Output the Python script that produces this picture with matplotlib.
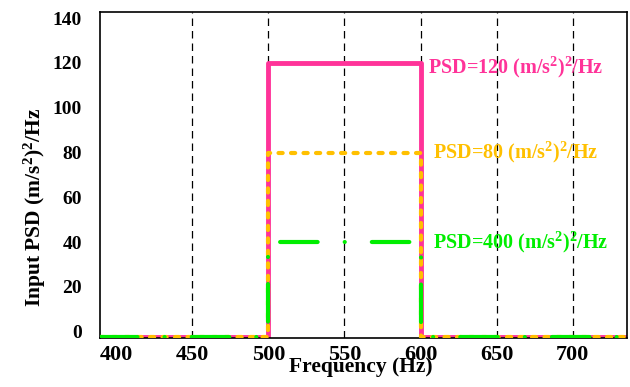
import numpy as np
import matplotlib.pyplot as plt

# step PSD profiles (Hz, (m/s^2)^2/Hz); the flat part sits on the lower frame line
freq = [389.5, 500, 500, 600, 600, 735.5]
psd_120 = [-2.5, -2.5, 120, 120, -2.5, -2.5]
psd_80 = [-2.5, -2.5, 80, 80, -2.5, -2.5]
psd_40 = [-2.5, -2.5, 40, 40, -2.5, -2.5]
labels = ['PSD=120 (m/s$^{2}$)$^{2}$/Hz', 'PSD=80 (m/s$^{2}$)$^{2}$/Hz', 'PSD=400 (m/s$^{2}$)$^{2}$/Hz']
grid_x = [450, 500, 550, 600, 650, 700]
xticks = [400, 450, 500, 550, 600, 650, 700]
yticks = [0, 20, 40, 60, 80, 100, 120, 140]

plt.rcParams['font.family'] = ['Liberation Serif', 'DejaVu Serif']
plt.rcParams['font.weight'] = 'bold'
plt.rcParams['mathtext.fontset'] = 'custom'
plt.rcParams['mathtext.rm'] = 'Liberation Serif:bold'
plt.rcParams['mathtext.it'] = 'Liberation Serif:bold'
plt.rcParams['mathtext.bf'] = 'Liberation Serif:bold'

fig = plt.figure(figsize=(6.3, 3.87), dpi=100)
ax = fig.add_axes([0.159, 0.127, 0.836, 0.842])

for g in grid_x:
    ax.axvline(g, color='black', lw=0.9, ls=(0, (6, 4)), zorder=1)

pink = '#FF3399'
orange = '#FFC000'
green = '#00EE00'
ax.plot(freq, psd_120, color=pink, lw=3.5, zorder=2)
ax.plot(freq, psd_80, color=orange, lw=3, ls=(0, (1, 2)), dash_capstyle='round', zorder=3)
ax.plot(freq, psd_40, color=green, lw=3, ls=(0, (9, 6.5, 0.01, 6.5)), dash_capstyle='round', zorder=4)

ax.text(605, 118, labels[0], color=pink, fontsize=14.5, fontweight='bold', va='center')
ax.text(608, 80, labels[1], color=orange, fontsize=14.5, fontweight='bold', va='center')
ax.text(608, 40, labels[2], color=green, fontsize=14.5, fontweight='bold', va='center')

ax.set_xlim(389.5, 735.5)
ax.set_ylim(-2.7, 142.7)
ax.set_xticks(xticks)
ax.set_yticks(yticks)
ax.tick_params(length=0)
ax.tick_params(axis='x', labelsize=16, pad=5)
ax.tick_params(axis='y', labelsize=14, pad=13)
for lab in ax.get_xticklabels() + ax.get_yticklabels():
    lab.set_fontweight('bold')
for s in ax.spines.values():
    s.set_linewidth(1.2)

ax.set_xlabel('Frequency (Hz)', fontsize=15.5, fontweight='bold')
ax.xaxis.set_label_coords(0.495, -0.06)
ax.set_ylabel('Input PSD (m/s$^{2}$)$^{2}$/Hz', fontsize=15.5, fontweight='bold')
ax.yaxis.set_label_coords(-0.1, 0.40)

fig.savefig('out.png', dpi=100)
